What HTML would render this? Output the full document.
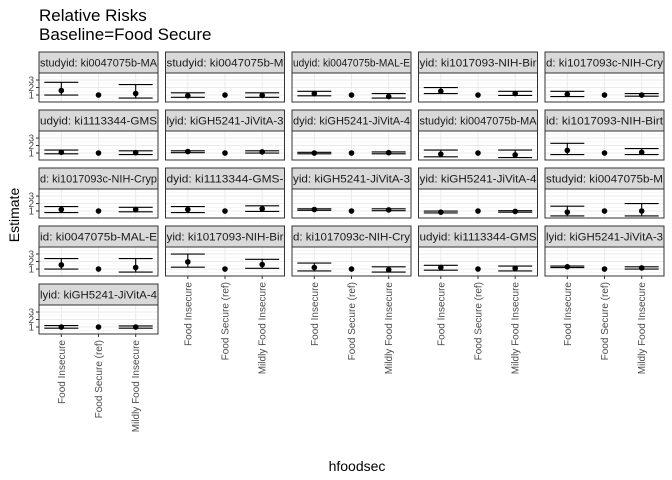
<!DOCTYPE html>
<html><head><meta charset="utf-8"><style>
html,body{margin:0;padding:0;background:#fff;}
svg{display:block;font-family:"Liberation Sans",sans-serif;}
</style></head><body>
<svg id="chart" width="672" height="480" viewBox="0 0 672 480">
<text x="39" y="21" font-size="17" fill="#000">Relative Risks</text>
<text x="39" y="40" font-size="17" fill="#000">Baseline=Food Secure</text>
<text x="357" y="471" font-size="14" text-anchor="middle" fill="#000">hfoodsec</text>
<text transform="translate(19,215) rotate(-90)" font-size="14" text-anchor="middle" fill="#000">Estimate</text>
<g id="panels"></g>
</svg>
<script>
const categories = ["Food Insecure", "Food Secure (ref)", "Mildly Food Insecure"];
const stripLabels = ["studyid: ki0047075b-MA","studyid: ki0047075b-M","udyid: ki0047075b-MAL-E","yid: ki1017093-NIH-Bir","d: ki1017093c-NIH-Cry",
"udyid: ki1113344-GMS","lyid: kiGH5241-JiVitA-3","dyid: kiGH5241-JiVitA-4","studyid: ki0047075b-MA","id: ki1017093-NIH-Birt",
"d: ki1017093c-NIH-Cryp","dyid: ki1113344-GMS-","yid: kiGH5241-JiVitA-3","yid: kiGH5241-JiVitA-4","studyid: ki0047075b-M",
"id: ki0047075b-MAL-E","yid: ki1017093-NIH-Bir","d: ki1017093c-NIH-Cry","udyid: ki1113344-GMS","lyid: kiGH5241-JiVitA-3",
"lyid: kiGH5241-JiVitA-4"];
const fiEst = [1.6,0.9,1.2,1.5,1.1, 1.1,1.2,1.0,0.85,1.35, 1.2,1.2,1.2,0.85,0.85, 1.55,1.95,1.2,1.2,1.3, 1.0];
const fiLo  = [1.0,0.7,0.9,1.2,0.8, 0.9,1.05,0.9,0.5,0.8, 0.8,0.8,1.1,0.75,0.35, 1.0,1.25,0.75,0.85,1.2, 0.85];
const fiHi  = [2.7,1.3,1.5,2.0,1.5, 1.4,1.3,1.1,1.4,2.3, 1.6,1.6,1.3,1.0,1.65, 2.4,3.0,1.8,1.5,1.4, 1.2];
const mfiEst = [1.2,0.95,0.8,1.2,1.0, 1.05,1.15,1.05,0.75,1.1, 1.2,1.3,1.15,0.95,1.0, 1.2,1.6,0.9,1.1,1.15, 1.0];
const mfiLo  = [0.6,0.7,0.6,0.95,0.85, 0.8,1.0,0.9,0.4,0.8, 0.9,0.95,1.05,0.85,0.35, 0.6,1.1,0.6,0.75,1.0, 0.85];
const mfiHi  = [2.4,1.3,1.2,1.5,1.2, 1.3,1.3,1.15,1.4,1.6, 1.5,1.7,1.3,1.05,2.0, 2.4,2.3,1.3,1.4,1.3, 1.15];
const refEst = 1;
const yTicks = [1,2,3];

const NS="http://www.w3.org/2000/svg";
const root=document.getElementById('panels');
function mk(tag,attrs,parent){const e=document.createElementNS(NS,tag);for(const k in attrs)e.setAttribute(k,attrs[k]);(parent||root).appendChild(e);return e;}
const PW=119, PH=29, SH=21;
function colX(c){return 39+c*126.5;}
function rowY(r){return 52+r*58;}
function yScale(v,top){return top+PH-(v-0.07)*7.5;}
function xScale(i,left){return left+(i+0.6)*(PW/3.2);}

stripLabels.forEach((s,k)=>{
  const c=k%5, r=Math.floor(k/5);
  const left=colX(c), st=rowY(r), top=st+SH;
  const g=mk('g',{});
  
  
  const cp=mk('clipPath',{id:'cp'+k},g);
  mk('rect',{x:left,y:st,width:PW,height:SH},cp);
  const sr=mk('rect',{x:left,y:st,width:PW,height:SH,fill:'#d9d9d9',stroke:'#333','stroke-width':1},g);
  
  
  const stx=mk('text',{x:left+1,y:st+14.5,'font-size':11,textLength:PW-2,lengthAdjust:'spacingAndGlyphs',fill:'#1a1a1a','clip-path':'url(#cp'+k+')'},g);
  stx.textContent=s;
  
  
  mk('rect',{x:left,y:top,width:PW,height:PH,fill:'#fff'},g);
  [0.5,1.5,2.5,3.5].forEach(v=>{const y=yScale(v,top);if(y>top&&y<top+PH)mk('line',{x1:left,x2:left+PW,y1:y,y2:y,stroke:'#f2f2f2','stroke-width':0.6},g);});
  yTicks.forEach(v=>{const y=yScale(v,top);mk('line',{x1:left,x2:left+PW,y1:y,y2:y,stroke:'#ebebeb','stroke-width':1},g);});
  categories.forEach((cat,i)=>{const x=xScale(i,left);mk('line',{x1:x,x2:x,y1:top,y2:top+PH,stroke:'#ebebeb','stroke-width':1},g);});
  const series=[[fiEst[k],fiLo[k],fiHi[k]],[refEst,null,null],[mfiEst[k],mfiLo[k],mfiHi[k]]];
  series.forEach((d,i)=>{
    const x=xScale(i,left);
    if(d[1]!==null){
      const eb=mk('g',{stroke:'#000','stroke-width':1.1},g);
      
      
      const yl=yScale(d[1],top), yh=yScale(d[2],top);
      mk('line',{x1:x,x2:x,y1:yl,y2:yh},eb);
      mk('line',{x1:x-17,x2:x+17,y1:yl,y2:yl},eb);
      mk('line',{x1:x-17,x2:x+17,y1:yh,y2:yh},eb);
    }
    const pt=mk('circle',{cx:x,cy:yScale(d[0],top),r:2.8,fill:'#000'},g);
    
    
  });
  mk('rect',{x:left,y:top,width:PW,height:PH,fill:'none',stroke:'#333','stroke-width':1},g);
  if(c===0){
    yTicks.forEach(v=>{const y=yScale(v,top);
      mk('line',{x1:left-3,x2:left,y1:y,y2:y,stroke:'#333'},g);
      const t=mk('text',{x:left-5,y:y+3.5,'font-size':10,'text-anchor':'end',fill:'#4d4d4d'},g);
      t.textContent=v;
      
      
    });
  }
  const lowest = (c===0 && r===4) || (c>0 && r===3);
  if(lowest){
    categories.forEach((cat,i)=>{const x=xScale(i,left);
      mk('line',{x1:x,x2:x,y1:top+PH,y2:top+PH+3,stroke:'#333'},g);
      const t=mk('text',{transform:'translate('+(x+3.5)+','+(top+PH+6)+') rotate(-90)','font-size':10,'text-anchor':'end',fill:'#4d4d4d'},g);
      t.textContent=cat;
      
      
    });
  }
});
</script>
</body></html>
